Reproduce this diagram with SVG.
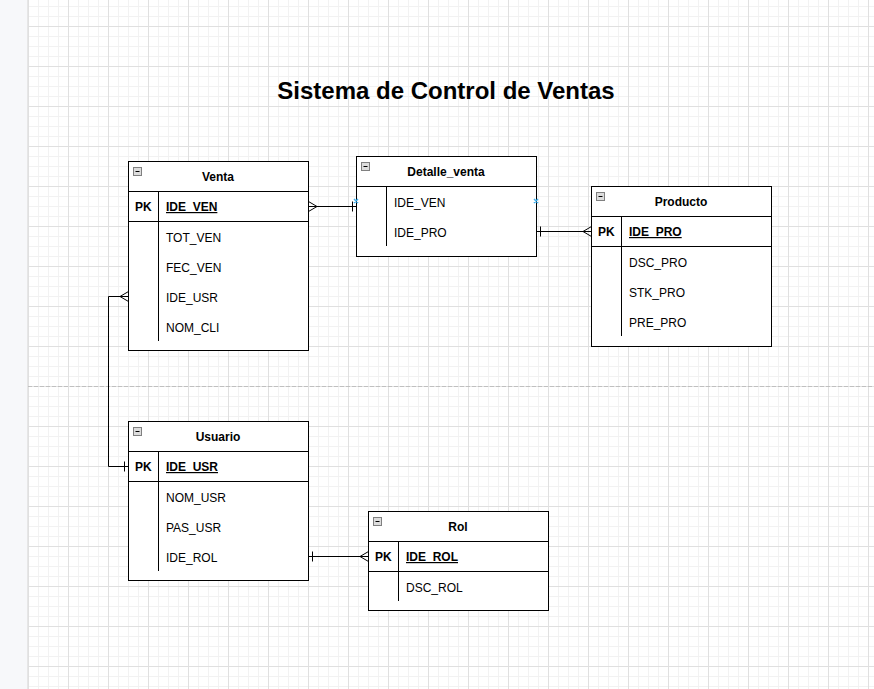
<svg xmlns="http://www.w3.org/2000/svg" width="874" height="689" viewBox="0 0 874 689">
<defs>
<pattern id="grid" patternUnits="userSpaceOnUse" x="28" y="26" width="40" height="40">
<path d="M10.5 0V40M20.5 0V40M30.5 0V40M0 10.5H40M0 20.5H40M0 30.5H40" stroke="#f2f2f2" stroke-width="1" fill="none"/>
<path d="M0.5 0V40M0 0.5H40" stroke="#e0e0e0" stroke-width="1" fill="none"/>
</pattern>
</defs>
<style>
.tbl{fill:#fff;stroke:#000;stroke-width:1}
.ln{stroke:#000;stroke-width:1;fill:none}
.ico{fill:#dddddd;stroke:#808080;stroke-width:1}
text{font-family:'Liberation Sans',Helvetica,Arial,sans-serif;font-size:12px;fill:#000}
.hd{font-weight:bold;text-anchor:middle}
.pk{font-weight:bold}
.pkf{font-weight:bold;text-decoration:underline}
.title{font-size:24px;font-weight:bold;text-anchor:middle}
.mk{stroke:#3fb0ee;stroke-width:1.5;fill:none}
</style>
<rect x="0" y="0" width="874" height="689" fill="#fff"/>
<rect x="28" y="0" width="846" height="689" fill="url(#grid)"/>
<rect x="0" y="0" width="28" height="689" fill="#f7f8fa"/>
<line x1="27.5" y1="0" x2="27.5" y2="689" stroke="#e6e6e6"/>
<line x1="28" y1="386.5" x2="874" y2="386.5" stroke="#c0c0c0" stroke-dasharray="4 2"/>
<text class="title" x="446" y="99">Sistema de Control de Ventas</text>

<g id="connectors">
<path class="ln" d="M308.5 206.5H356.5"/>
<path class="ln" d="M308.5 201.5L317 206.5L308.5 211.5"/>
<path class="ln" d="M352.5 201.5V211.5"/>
<path class="ln" d="M536.5 231.5H591.5"/>
<path class="ln" d="M540.5 226.5V236.5"/>
<path class="ln" d="M591.5 226.5L583 231.5L591.5 236.5"/>
<path class="ln" d="M128.5 296.5H108.5V466.5H128.5"/>
<path class="ln" d="M128.5 291.5L120 296.5L128.5 301.5"/>
<path class="ln" d="M124.5 461.5V471.5"/>
<path class="ln" d="M308.5 556.5H368.5"/>
<path class="ln" d="M312.5 551.5V561.5"/>
<path class="ln" d="M368.5 551.5L360 556.5L368.5 561.5"/>
</g>

<g id="venta">
<rect class="tbl" x="128.5" y="161.5" width="180" height="189"/>
<path class="ln" d="M128.5 191.5H308.5M128.5 221.5H308.5M158.5 191.5V341"/>
<rect class="ico" x="133.5" y="167.5" width="8" height="8"/>
<path class="ln" d="M135.5 171.5H139.5"/>
<text class="hd" x="218" y="181">Venta</text>
<text class="pk" x="135" y="211">PK</text>
<text class="pkf" x="166" y="211">IDE_VEN</text>
<text x="166" y="242">TOT_VEN</text>
<text x="166" y="272">FEC_VEN</text>
<text x="166" y="302">IDE_USR</text>
<text x="166" y="332">NOM_CLI</text>
</g>

<g id="detalle_venta">
<rect class="tbl" x="356.5" y="156.5" width="180" height="100"/>
<path class="ln" d="M356.5 186.5H536.5M386.5 186.5V246"/>
<rect class="ico" x="361.5" y="162.5" width="8" height="8"/>
<path class="ln" d="M363.5 166.5H367.5"/>
<text class="hd" x="446" y="176">Detalle_venta</text>
<text x="394" y="207">IDE_VEN</text>
<text x="394" y="237">IDE_PRO</text>
<path class="mk" d="M354 199L358 203M358 199L354 203M534 199L538 203M538 199L534 203"/>
</g>

<g id="producto">
<rect class="tbl" x="591.5" y="186.5" width="180" height="160"/>
<path class="ln" d="M591.5 216.5H771.5M591.5 246.5H771.5M621.5 216.5V336"/>
<rect class="ico" x="596.5" y="192.5" width="8" height="8"/>
<path class="ln" d="M598.5 196.5H602.5"/>
<text class="hd" x="681" y="206">Producto</text>
<text class="pk" x="598" y="236">PK</text>
<text class="pkf" x="629" y="236">IDE_PRO</text>
<text x="629" y="267">DSC_PRO</text>
<text x="629" y="297">STK_PRO</text>
<text x="629" y="327">PRE_PRO</text>
</g>

<g id="usuario">
<rect class="tbl" x="128.5" y="421.5" width="180" height="159"/>
<path class="ln" d="M128.5 451.5H308.5M128.5 481.5H308.5M158.5 451.5V571"/>
<rect class="ico" x="133.5" y="427.5" width="8" height="8"/>
<path class="ln" d="M135.5 431.5H139.5"/>
<text class="hd" x="218" y="441">Usuario</text>
<text class="pk" x="135" y="471">PK</text>
<text class="pkf" x="166" y="471">IDE_USR</text>
<text x="166" y="502">NOM_USR</text>
<text x="166" y="532">PAS_USR</text>
<text x="166" y="562">IDE_ROL</text>
</g>

<g id="rol">
<rect class="tbl" x="368.5" y="511.5" width="180" height="99"/>
<path class="ln" d="M368.5 541.5H548.5M368.5 571.5H548.5M398.5 541.5V601"/>
<rect class="ico" x="373.5" y="517.5" width="8" height="8"/>
<path class="ln" d="M375.5 521.5H379.5"/>
<text class="hd" x="458" y="531">Rol</text>
<text class="pk" x="375" y="561">PK</text>
<text class="pkf" x="406" y="561">IDE_ROL</text>
<text x="406" y="592">DSC_ROL</text>
</g>
</svg>
